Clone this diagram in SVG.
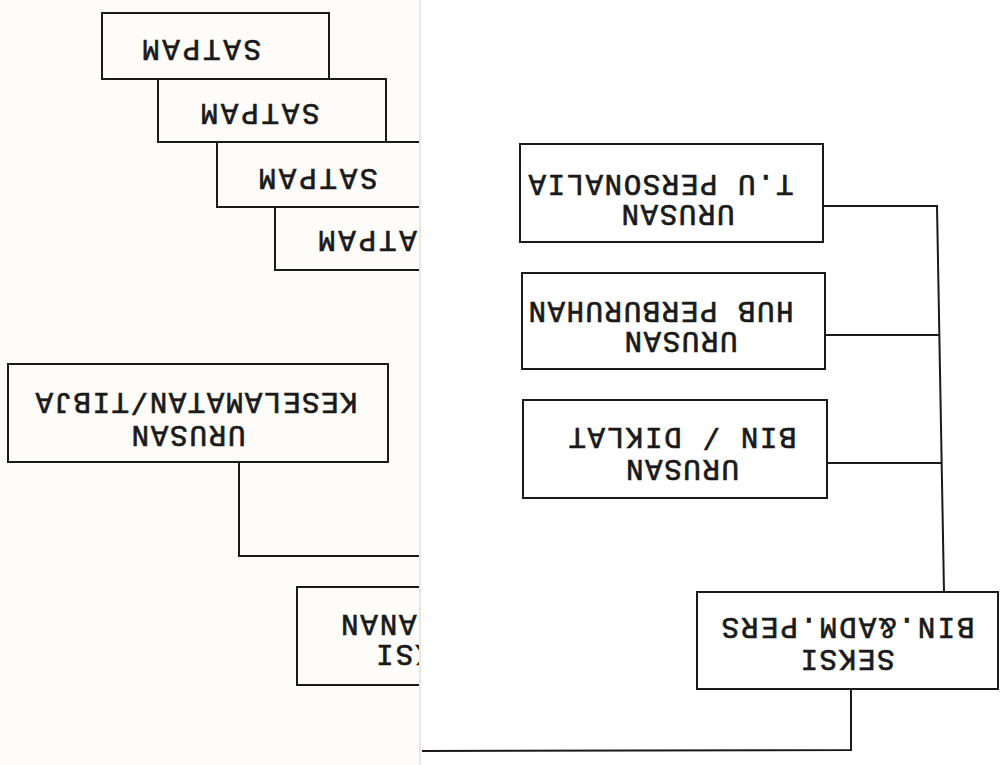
<svg xmlns="http://www.w3.org/2000/svg" width="1000" height="765" viewBox="0 0 1000 765">
  <defs>
    <clipPath id="leftPage">
      <rect x="0" y="0" width="419" height="765"/>
    </clipPath>
    <style>
      .box { fill: none; stroke: #1a1a1a; stroke-width: 2; }
      .line { fill: none; stroke: #1a1a1a; stroke-width: 2; }
      .t { font-family: "Liberation Mono", "Courier New", monospace; font-size: 29px; fill: #1a1a1a; stroke: #1a1a1a; stroke-width: 0.7; }
    </style>
  </defs>

  <!-- paper backgrounds -->
  <rect x="0" y="0" width="1000" height="765" fill="#fdfcf8"/>
  <rect x="420" y="0" width="580" height="765" fill="#ffffff"/>
  <line x1="420" y1="0" x2="420" y2="765" stroke="#ebe6dc" stroke-width="2"/>

  <!-- left page (partly covered by the right page) -->
  <g clip-path="url(#leftPage)">
    <g id="satpam1">
      <rect class="box" x="102" y="13" width="227" height="66"/>
      <text class="t" x="201.5" y="40" text-anchor="middle" textLength="119" lengthAdjust="spacing" transform="rotate(180 201.5 40)">SATPAM</text>
    </g>
    <g id="satpam2">
      <rect class="box" x="158" y="79" width="228" height="63"/>
      <text class="t" x="260" y="104" text-anchor="middle" textLength="119" lengthAdjust="spacing" transform="rotate(180 260 104)">SATPAM</text>
    </g>
    <g id="satpam3">
      <rect class="box" x="217" y="142" width="240" height="65"/>
      <text class="t" x="318" y="169" text-anchor="middle" textLength="119" lengthAdjust="spacing" transform="rotate(180 318 169)">SATPAM</text>
    </g>
    <g id="satpam4">
      <rect class="box" x="275" y="207" width="240" height="63"/>
      <text class="t" x="377.5" y="231" text-anchor="middle" textLength="119" lengthAdjust="spacing" transform="rotate(180 377.5 231)">SATPAM</text>
    </g>
    <g id="urusan-keselamatan">
      <rect class="box" x="8" y="364" width="380" height="98"/>
      <text class="t" x="196.5" y="393" text-anchor="middle" textLength="322" lengthAdjust="spacing" transform="rotate(180 196.5 393)">KESELAMATAN/TIBJA</text>
      <text class="t" x="188.5" y="426" text-anchor="middle" textLength="114" lengthAdjust="spacing" transform="rotate(180 188.5 426)">URUSAN</text>
    </g>
    <g id="seksi-pengamanan">
      <rect class="box" x="297" y="587" width="300" height="98"/>
      <text class="t" x="341" y="615" text-anchor="end" textLength="95" lengthAdjust="spacing" transform="rotate(180 341 615)">MANAN</text>
      <text class="t" x="376" y="645" text-anchor="end" textLength="57" lengthAdjust="spacing" transform="rotate(180 376 645)">KSI</text>
    </g>
    <g id="connectors-left">
      <polyline class="line" points="239,462 239,556 430,556"/>
    </g>
  </g>

  <!-- right page -->
  <g id="urusan-tu-personalia">
    <rect class="box" x="520" y="144" width="303" height="98"/>
    <text class="t" x="661" y="175" text-anchor="middle" textLength="265" lengthAdjust="spacing" transform="rotate(180 661 175)">T.U PERSONALIA</text>
    <text class="t" x="678" y="205" text-anchor="middle" textLength="113" lengthAdjust="spacing" transform="rotate(180 678 205)">URUSAN</text>
  </g>
  <g id="urusan-hub-perburuhan">
    <rect class="box" x="522" y="273" width="303" height="96"/>
    <text class="t" x="661" y="302" text-anchor="middle" textLength="265" lengthAdjust="spacing" transform="rotate(180 661 302)">HUB PERBURUHAN</text>
    <text class="t" x="681" y="332" text-anchor="middle" textLength="113" lengthAdjust="spacing" transform="rotate(180 681 332)">URUSAN</text>
  </g>
  <g id="urusan-bin-diklat">
    <rect class="box" x="523" y="400" width="304" height="98"/>
    <text class="t" x="682.5" y="428" text-anchor="middle" textLength="228" lengthAdjust="spacing" transform="rotate(180 682.5 428)">BIN / DIKLAT</text>
    <text class="t" x="682.5" y="460" text-anchor="middle" textLength="113" lengthAdjust="spacing" transform="rotate(180 682.5 460)">URUSAN</text>
  </g>
  <g id="seksi-bin-adm-pers">
    <rect class="box" x="697" y="592" width="301" height="97"/>
    <text class="t" x="848" y="618" text-anchor="middle" textLength="253" lengthAdjust="spacing" transform="rotate(180 848 618)">BIN.&amp;ADM.PERS</text>
    <text class="t" x="847.5" y="650" text-anchor="middle" textLength="94" lengthAdjust="spacing" transform="rotate(180 847.5 650)">SEKSI</text>
  </g>

  <g id="connectors">
    <polyline class="line" points="823,206 937,206 944,592"/>
    <line class="line" x1="825" y1="335" x2="939.5" y2="335"/>
    <line class="line" x1="827" y1="463" x2="941" y2="463"/>
    <polyline class="line" points="851,689 851,750 422,751"/>
  </g>
</svg>
